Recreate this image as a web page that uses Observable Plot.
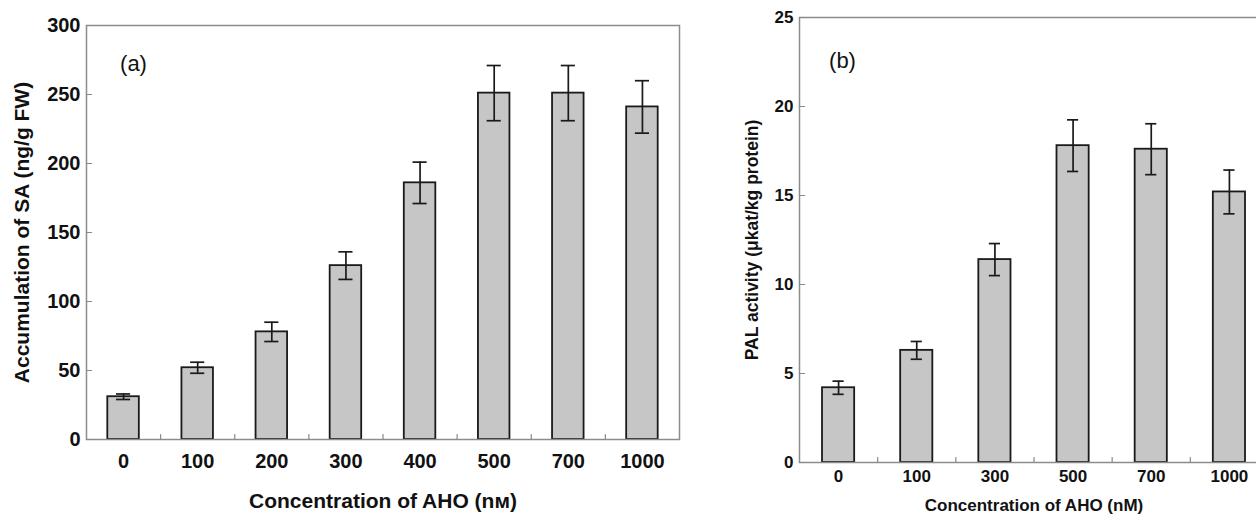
<!DOCTYPE html>
<html><head><meta charset="utf-8">
<script src="https://cdn.jsdelivr.net/npm/d3@7"></script>
<script src="https://cdn.jsdelivr.net/npm/@observablehq/plot@0.6"></script>
<style>
html,body{margin:0;padding:0;background:#fff;overflow:hidden;}
#wrap{position:relative;width:1256px;height:516px;overflow:hidden;}
#wrap svg{position:absolute;top:0;}
</style></head><body><div id="wrap"></div>
<script>
// Panel (a): SA accumulation
const catsA = ["0","100","200","300","400","500","700","1000"];
const meanA = [31, 52, 78, 126, 186, 251, 251, 241];
const errA  = [2, 4, 7, 10, 15, 20, 20, 19];
const yTicksA = [0, 50, 100, 150, 200, 250, 300];
// Panel (b): PAL activity
const catsB = ["0","100","300","500","700","1000"];
const meanB = [4.2, 6.3, 11.4, 17.8, 17.6, 15.2];
const errB  = [0.37, 0.5, 0.9, 1.45, 1.43, 1.23];
const yTicksB = [0, 5, 10, 15, 20, 25];

const tickShape = {draw(ctx, l) { ctx.moveTo(0, 0); ctx.lineTo(0, -l); }};

function panel(o) {
  const n = o.cats.length;
  const rows = o.cats.map((c, i) => ({i, c, v: o.mean[i], lo: o.mean[i] - o.err[i], hi: o.mean[i] + o.err[i]}));
  const ink = "#1a1a1a";
  return Plot.plot({
    width: o.width, height: o.height,
    marginLeft: o.m[0], marginRight: o.m[1], marginTop: o.m[2], marginBottom: o.m[3],
    style: {fontFamily: "'Liberation Sans', Arial, sans-serif", fontSize: o.tickFont + "px", fontWeight: "bold", color: "#111", background: "transparent", overflow: "visible"},
    x: {domain: [0, n], axis: null},
    y: {domain: [0, o.yMax], axis: null},
    marks: [
      Plot.rectY(rows, {x1: d => d.i, x2: d => d.i + 1, y: "v", fill: "#c6c6c6", stroke: ink, strokeWidth: 1.8, insetLeft: o.barInset, insetRight: o.barInset}),
      Plot.ruleX(rows, {x: d => d.i + 0.5, y1: "lo", y2: "hi", stroke: ink, strokeWidth: 1.7}),
      Plot.ruleY(rows, {y: "hi", x1: d => d.i, x2: d => d.i + 1, insetLeft: o.capInset, insetRight: o.capInset, stroke: ink, strokeWidth: 1.7}),
      Plot.ruleY(rows, {y: "lo", x1: d => d.i, x2: d => d.i + 1, insetLeft: o.capInset, insetRight: o.capInset, stroke: ink, strokeWidth: 1.7}),
      Plot.frame({stroke: "#8c8c8c", strokeWidth: 1.5}),
      Plot.axisY({ticks: o.yTicks, tickSize: 0, tickPadding: o.yTickPad, fill: "#111", label: null}),
      Plot.vector(o.yTicks, {x: d => 0, y: d => d, length: 5, rotate: 90, anchor: "start", shape: tickShape, stroke: "#888", strokeWidth: 1.2}),
      Plot.axisX({ticks: d3.range(n).map(i => i + 0.5), tickFormat: t => o.cats[Math.floor(t)], tickSize: 0, tickPadding: o.xTickPad, fill: "#111", label: null}),
      Plot.vector(d3.range(1, n), {x: d => d, y: d => 0, length: 5, anchor: "start", shape: tickShape, stroke: "#888", strokeWidth: 1.2}),
      Plot.text([o.tag], {frameAnchor: "top-left", dx: o.tagPos[0], dy: o.tagPos[1], textAnchor: "middle", lineAnchor: "middle", fontSize: 22, fontWeight: "normal", fill: "#111"}),
      Plot.text([o.xLabel], {frameAnchor: "bottom", dy: o.xLabelDy, textAnchor: "middle", lineAnchor: "middle", fontSize: o.labelFont, fontWeight: "bold", fill: "#111"}),
      Plot.text([o.yLabel], {frameAnchor: "left", dx: o.yLabelDx, rotate: -90, textAnchor: "middle", lineAnchor: "middle", fontSize: o.yLabelFont, fontWeight: "bold", fill: "#111"})
    ]
  });
}

const wrap = document.getElementById("wrap");

const a = panel({
  cats: catsA, mean: meanA, err: errA, yMax: 300, yTicks: yTicksA,
  width: 700, height: 516, m: [86, 21, 25, 77],
  barInset: 21.3, capInset: 30, tickFont: 20, labelFont: 21, yLabelFont: 21,
  yTickPad: 6, xTickPad: 14,
  tag: "(a)", tagPos: [47, 38],
  xLabel: "Concentration of AHO (nᴍ)", xLabelDy: 62,
  yLabel: "Accumulation of SA (ng/g FW)", yLabelDx: -64
});
a.style.left = "0px";
wrap.appendChild(a);

const b = panel({
  cats: catsB, mean: meanB, err: errB, yMax: 25, yTicks: yTicksB,
  width: 600, height: 516, m: [99, 32, 17, 54],
  barInset: 23, capInset: 33.5, tickFont: 17, labelFont: 17, yLabelFont: 17.5,
  yTickPad: 6, xTickPad: 7,
  tag: "(b)", tagPos: [43, 43],
  xLabel: "Concentration of AHO (nM)", xLabelDy: 43,
  yLabel: "PAL activity (μkat/kg protein)", yLabelDx: -47
});
b.style.left = "700px";
wrap.appendChild(b);
</script>
</body></html>
